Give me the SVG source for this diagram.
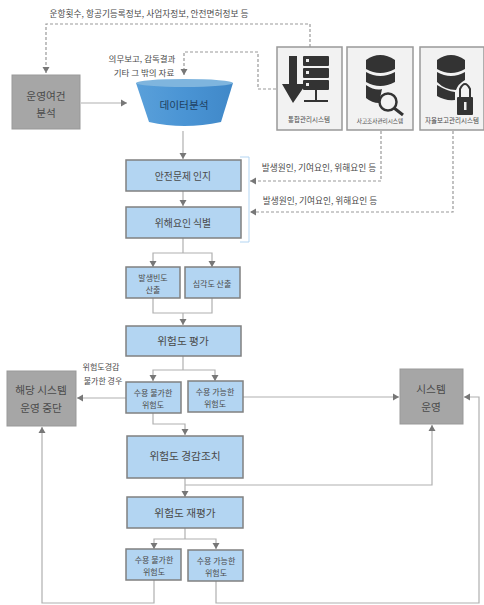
<svg xmlns="http://www.w3.org/2000/svg" width="484" height="605" viewBox="0 0 484 605">
<defs>
<marker id="a" markerUnits="userSpaceOnUse" markerWidth="7" markerHeight="8" refX="6" refY="4" orient="auto"><path d="M0 0.500L6 4L0 7.500Z" fill="#777"/></marker>
<linearGradient id="cyl" x1="0" y1="0" x2="1" y2="0"><stop offset="0" stop-color="#5aa0da"/><stop offset="0.5" stop-color="#4a94d4"/><stop offset="1" stop-color="#4088c8"/></linearGradient>
</defs>
<style>
text{font-family:"Noto Sans CJK KR","Noto Sans",sans-serif;fill:#4a4a4a;text-anchor:middle}
.b{fill:#b3d5f2;stroke:#808080;stroke-width:1.5}
.g{fill:#a6a6a6;stroke:#999;stroke-width:1}
.p{fill:#f2f2f2;stroke:#999;stroke-width:1.5}
.i{fill:#333}
.c{fill:none;stroke:#b0b0b0;stroke-width:1.200}
.d{fill:none;stroke:#999;stroke-width:1.200;stroke-dasharray:3 2}
.t9{font-size:8.700px}.t8{font-size:8px}.t85{font-size:8.500px}.t10{font-size:9.800px}.t11{font-size:10.700px}.t6{font-size:6.500px}.t5{font-size:5.600px}
</style>
<g id="connectors">
<path class="d" marker-end="url(#a)" d="M310 47V24H46V73"/>
<path class="d" marker-end="url(#a)" d="M276 89H258V52H184V75"/>
<path class="c" marker-end="url(#a)" d="M81 103H127"/>
<path class="c" marker-end="url(#a)" d="M183 131V159"/>
<path class="c" marker-end="url(#a)" d="M183 191V206"/>
<path class="d" marker-end="url(#a)" d="M381 131V181H250"/>
<path class="d" marker-end="url(#a)" d="M453 131V212H250"/>
<path class="c" d="M183 238V253"/>
<path class="c" marker-end="url(#a)" d="M183 253H153V267"/>
<path class="c" marker-end="url(#a)" d="M183 253H212V267"/>
<path class="c" d="M153 298V313H212V298"/>
<path class="c" marker-end="url(#a)" d="M183 313V325"/>
<path class="c" d="M183 356V370"/>
<path class="c" marker-end="url(#a)" d="M183 370H153V381"/>
<path class="c" marker-end="url(#a)" d="M183 370H215V381"/>
<path class="c" marker-end="url(#a)" d="M126 398H77"/>
<path class="c" marker-end="url(#a)" d="M243 397H399"/>
<path class="c" marker-end="url(#a)" d="M153 413V424H185V435"/>
<path class="c" marker-end="url(#a)" d="M185 478V497"/>
<path class="c" marker-end="url(#a)" d="M185 485H432V425"/>
<path class="c" d="M185 528V539"/>
<path class="c" marker-end="url(#a)" d="M185 539H154V549"/>
<path class="c" marker-end="url(#a)" d="M185 539H216V549"/>
<path class="c" marker-end="url(#a)" d="M154 580V603H42V427"/>
<path class="c" marker-end="url(#a)" d="M216 581V603H479V397H464"/>
<path fill="none" stroke="#b3d5f2" stroke-width="1" d="M240 157H249V242H240"/>
</g>
<text class="t9" x="149" y="17">운항횟수, 항공기등록정보, 사업자정보, 안전면허정보 등</text>
<text class="t85" x="142" y="62">의무보고, 감독결과</text>
<text class="t85" x="144" y="76">기타 그 밖의 자료</text>
<text class="t9" x="319" y="171">발생원인, 기여요인, 위해요인 등</text>
<text class="t9" x="320" y="204">발생원인, 기여요인, 위해요인 등</text>
<text class="t8" x="101" y="370">위험도경감</text>
<text class="t8" x="103" y="384">불가한 경우</text>
<g id="n-oper"><rect class="g" x="12" y="75" width="68" height="54"/><text class="t11" x="46" y="100">운영여건</text><text class="t11" x="46" y="117">분석</text></g>
<g id="n-data">
<path d="M136 83L149 122Q184 130 221 122L233 83Z" fill="url(#cyl)"/>
<ellipse cx="184.500" cy="83" rx="48.500" ry="4" fill="#7fb5de"/>
<text class="t11" x="184" y="109" style="fill:#1f3f60">데이터분석</text></g>
<g id="n-sys1"><rect class="p" x="277" y="47" width="65" height="83"/>
<path class="i" d="M289 56H297V84H306L293 103L282 84H289Z"/>
<rect class="i" x="303" y="56" width="26" height="10" rx="1"/><rect class="i" x="303" y="68" width="26" height="10" rx="1"/><rect class="i" x="303" y="80" width="26" height="10" rx="1"/>
<g fill="#eee"><rect x="306" y="59" width="3" height="3"/><rect x="306" y="71" width="3" height="3"/><rect x="306" y="83" width="3" height="3"/></g>
<path d="M316 90V100M304 101H328" stroke="#333" stroke-width="2" fill="none"/>
<text class="t6" x="309" y="122">통합관리시스템</text></g>
<g id="n-sys2"><rect class="p" x="347" y="47" width="66" height="83"/>
<path class="i" d="M366 60Q380 50 395 60V69Q380 77 366 69ZM366 72Q380 80 395 72V82Q380 90 366 82ZM366 85Q375 91 382 89L379 103Q372 103 366 98Z"/>
<circle cx="388" cy="102" r="8.500" fill="#f2f2f2" stroke="#333" stroke-width="2.500"/><path d="M394 108L403 115" stroke="#333" stroke-width="3"/>
<text class="t5" x="380" y="123">사고조사관리시스템</text></g>
<g id="n-sys3"><rect class="p" x="420" y="47" width="64" height="83"/>
<path class="i" d="M437 60Q451 50 465 60V69Q451 77 437 69ZM437 72Q451 80 465 72V80Q458 84 456 90Q445 90 437 82ZM437 85Q447 91 455 92V100Q445 101 437 96Z"/>
<path d="M460 97V89Q465 79 470 89V97" fill="none" stroke="#333" stroke-width="2"/><rect class="i" x="457" y="97" width="16" height="18" rx="1"/><rect x="464" y="102" width="2.500" height="8" fill="#eee"/>
<text class="t6" x="452" y="123">자율보고관리시스템</text></g>
<g id="n-1"><rect class="b" x="126" y="160" width="115" height="31"/><text class="t10" x="183" y="180">안전문제 인지</text></g>
<g id="n-2"><rect class="b" x="126" y="207" width="115" height="31"/><text class="t10" x="183" y="227">위해요인 식별</text></g>
<g id="n-3"><rect class="b" x="126" y="267" width="54" height="31"/><text class="t8" x="153" y="281">발생빈도</text><text class="t8" x="153" y="293">산출</text></g>
<g id="n-4"><rect class="b" x="185" y="267" width="55" height="31"/><text class="t8" x="212" y="287">심각도 산출</text></g>
<g id="n-5"><rect class="b" x="126" y="326" width="115" height="30"/><text class="t11" x="183" y="345">위험도 평가</text></g>
<g id="n-6"><rect class="b" x="126" y="382" width="55" height="31"/><text class="t8" x="153" y="396">수용 불가한</text><text class="t8" x="153" y="408">위험도</text></g>
<g id="n-7"><rect class="b" x="188" y="381" width="55" height="31"/><text class="t8" x="215" y="395">수용 가능한</text><text class="t8" x="215" y="407">위험도</text></g>
<g id="n-stop"><rect class="g" x="7" y="371" width="69" height="55"/><text class="t11" x="41" y="394">해당 시스템</text><text class="t11" x="41" y="412">운영 중단</text></g>
<g id="n-run"><rect class="g" x="400" y="369" width="63" height="55"/><text class="t11" x="431" y="393">시스템</text><text class="t11" x="431" y="411">운영</text></g>
<g id="n-8"><rect class="b" x="127" y="436" width="116" height="42"/><text class="t11" x="185" y="460">위험도 경감조치</text></g>
<g id="n-9"><rect class="b" x="127" y="497" width="116" height="31"/><text class="t11" x="185" y="517">위험도 재평가</text></g>
<g id="n-10"><rect class="b" x="126" y="549" width="55" height="31"/><text class="t8" x="154" y="563">수용 불가한</text><text class="t8" x="154" y="575">위험도</text></g>
<g id="n-11"><rect class="b" x="188" y="550" width="55" height="31"/><text class="t8" x="216" y="564">수용 가능한</text><text class="t8" x="216" y="576">위험도</text></g>
</svg>
